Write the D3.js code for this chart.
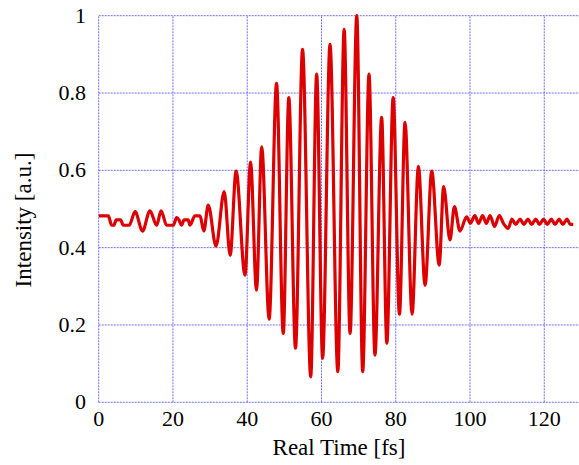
<!DOCTYPE html>
<html>
<head>
<meta charset="utf-8">
<script src="https://cdn.jsdelivr.net/npm/d3@7"></script>
<style>
  body { margin: 0; background: #fff; }
  svg { display: block; }
</style>
</head>
<body>
<svg id="chart" width="579" height="465" font-family="'Liberation Serif', Tinos, 'Times New Roman', Times, serif"></svg>
<script>
// time [fs] and intensity [a.u.]
var times = [0, 2.6, 3.5, 4.1, 4.7, 5.9, 6.6, 8.2, 9.8, 11.8, 13.8, 15.6, 16.8, 18.3, 20.1, 21.0, 21.7, 22.3, 23.0, 24.1, 24.6, 25.9, 27.3,
	28.3, 29.5, 31.6, 33.8, 35.4, 37.0, 39.4, 40.9, 42.5, 43.9, 45.9, 47.9, 49.7, 51.2, 53.0, 54.9, 57.1, 58.7, 60.3, 62.3, 64.4,
	66.1, 67.7, 69.5, 71.1, 72.8, 74.4, 76.2, 77.6, 79.3, 81.0, 82.5, 84.4, 86.1, 87.9, 89.7, 91.7, 92.9, 94.6, 95.8, 97.3, 99.1,
	100.1, 101.3, 102.3, 103.4, 104.4, 105.4, 106.6, 107.9, 109.0, 110.3, 111.3, 112.3, 113.5, 114.5, 115.6, 116.6, 117.7, 118.7,
	119.8, 120.8, 121.9, 122.9, 124.0, 125.0, 126.1, 127.0, 127.8];
var intensity = [0.482, 0.482, 0.458, 0.458, 0.472, 0.472, 0.458, 0.458, 0.493, 0.443, 0.495, 0.458, 0.495, 0.458, 0.458, 0.478, 0.470, 0.458, 0.472, 0.472, 0.458, 0.482, 0.482,
	0.443, 0.510, 0.404, 0.545, 0.380, 0.598, 0.329, 0.621, 0.290, 0.661, 0.215, 0.825, 0.178, 0.788, 0.140, 0.913, 0.066, 0.849, 0.114, 0.926, 0.079,
	0.965, 0.178, 1.000, 0.079, 0.849, 0.122, 0.737, 0.153, 0.788, 0.228, 0.724, 0.228, 0.610, 0.303, 0.598, 0.355, 0.558, 0.420, 0.506, 0.443, 0.480,
	0.463, 0.483, 0.463, 0.483, 0.463, 0.483, 0.455, 0.483, 0.463, 0.450, 0.474, 0.460, 0.474, 0.460, 0.474, 0.460, 0.474, 0.460,
	0.474, 0.460, 0.474, 0.460, 0.474, 0.460, 0.474, 0.460, 0.460];
var xTicks = [0, 20, 40, 60, 80, 100, 120];
var yTicks = [0, 0.2, 0.4, 0.6, 0.8, 1];

var data = times.map(function(t, i) { return { t: t, v: intensity[i] }; });

var svg = d3.select('#chart');

var x = d3.scaleLinear().domain([0, 130]).range([98.7, 581.4]);
var y = d3.scaleLinear().domain([0, 1]).range([402.3, 15.7]);

var gridColor = '#7070f0';

// grid (including frame lines at 0)
svg.append('g').selectAll('line')
	.data(xTicks)
	.enter().append('line')
	.attr('x1', function(d) { return x(d); })
	.attr('x2', function(d) { return x(d); })
	.attr('y1', y(0))
	.attr('y2', y(1))
	.style('stroke', gridColor)
	.style('stroke-width', 1)
	.style('stroke-dasharray', '2,1');

svg.append('g').selectAll('line')
	.data(yTicks)
	.enter().append('line')
	.attr('x1', x(0))
	.attr('x2', 579)
	.attr('y1', function(d) { return y(d); })
	.attr('y2', function(d) { return y(d); })
	.style('stroke', gridColor)
	.style('stroke-width', 1)
	.style('stroke-dasharray', '2,1');

// tick labels
svg.append('g').selectAll('text')
	.data(xTicks)
	.enter().append('text')
	.attr('x', function(d) { return x(d); })
	.attr('y', 425.5)
	.attr('text-anchor', 'middle')
	.style('font-size', '22px')
	.text(function(d) { return d; });

svg.append('g').selectAll('text')
	.data(yTicks)
	.enter().append('text')
	.attr('x', 86)
	.attr('y', function(d) { return y(d) + 7; })
	.attr('text-anchor', 'end')
	.style('font-size', '22px')
	.text(function(d) { return d; });

// axis titles
svg.append('text')
	.attr('x', 339)
	.attr('y', 455)
	.attr('text-anchor', 'middle')
	.style('font-size', '23px')
	.text('Real Time [fs]');

svg.append('text')
	.attr('transform', 'translate(31,220) rotate(-90)')
	.attr('text-anchor', 'middle')
	.style('font-size', '23px')
	.text('Intensity [a.u.]');

// signal
var line = d3.line()
	.x(function(d) { return x(d.t); })
	.y(function(d) { return y(d.v); })
	.curve(d3.curveMonotoneX);

svg.append('path')
	.datum(data)
	.attr('d', line)
	.style('fill', 'none')
	.style('stroke', '#dd0000')
	.style('stroke-width', 3.2)
	.style('stroke-linejoin', 'round');
</script>
</body>
</html>
